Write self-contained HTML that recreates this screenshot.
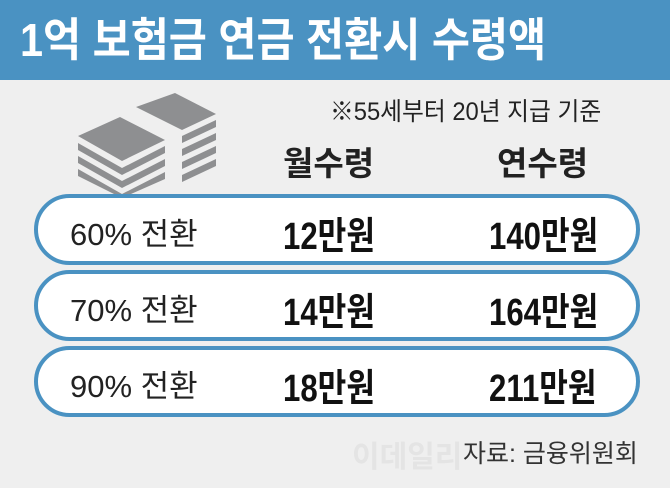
<!DOCTYPE html>
<html><head><meta charset="utf-8"><style>
body{margin:0;width:670px;height:488px;background:#efefef;font-family:"Liberation Sans","Noto Sans CJK KR",sans-serif;position:relative;overflow:hidden}
.hd{position:absolute;left:0;top:0;width:670px;height:80px;background:#4a92c2}
.ht{position:absolute;left:20px;top:14px;color:#fff;font-size:46px;font-weight:bold;white-space:nowrap;transform:scaleX(0.9);transform-origin:0 0;line-height:52px}
.t{position:absolute;color:#222;white-space:nowrap}
.pill{position:absolute;left:34px;width:598px;height:63px;background:#fff;border:4px solid #4a92c2;border-radius:36px}
.lab{position:absolute;left:32px;font-size:31px;color:#222;top:11px;white-space:nowrap}
.v{position:absolute;font-size:38px;font-weight:bold;color:#111;top:7px;white-space:nowrap;transform:scaleX(0.82);transform-origin:0 0}
</style></head><body>
<div class="hd"><div class="ht">1억 보험금 연금 전환시 수령액</div></div>
<svg style="position:absolute;left:70px;top:88px" width="160" height="110">
<g fill="#8e8f91">
<polygon points="8,48 50,29 95,52 52,73"/>
<polygon points="8,55 52,80 95,58 95,65 52,87 8,62"/>
<polygon points="8,68 52,93 95,71 95,78 52,100 8,75"/>
<polygon points="8,81 52,106 95,84 95,91 52,110 8,88"/>
<polygon points="66,19 105,5 146,26 112,42"/>
<polygon points="112,48 146,32 146,39 112,55"/>
<polygon points="112,61 146,45 146,52 112,68"/>
<polygon points="112,74 146,58 146,65 112,81"/>
<polygon points="112,87 146,71 146,78 112,94"/>
</g></svg>
<div class="t" style="left:330px;top:92px;font-size:25px;transform:scaleX(0.95);transform-origin:0 0">※55세부터 20년 지급 기준</div>
<div class="t" style="left:283px;top:137px;font-size:33px;font-weight:bold">월수령</div>
<div class="t" style="left:497px;top:137px;font-size:33px;font-weight:bold">연수령</div>
<div class="pill" style="top:194px"><div class="lab">60% 전환</div><div class="v" style="left:245px">12만원</div><div class="v" style="left:451px">140만원</div></div>
<div class="pill" style="top:270px"><div class="lab">70% 전환</div><div class="v" style="left:245px">14만원</div><div class="v" style="left:451px">164만원</div></div>
<div class="pill" style="top:346px"><div class="lab">90% 전환</div><div class="v" style="left:245px">18만원</div><div class="v" style="left:451px">211만원</div></div>
<div class="t" style="left:352px;top:432px;font-size:30px;font-weight:bold;color:#e4e4e4">이데일리</div>
<div class="t" style="left:463px;top:434px;font-size:25px;color:#333">자료: 금융위원회</div>
</body></html>
